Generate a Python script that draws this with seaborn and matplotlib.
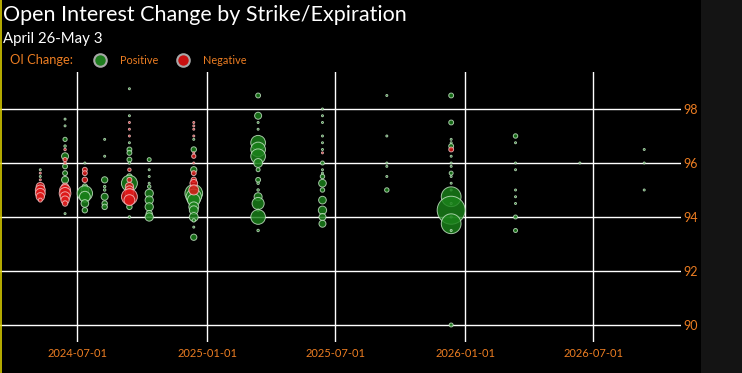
import pandas as pd
import numpy as np
import seaborn as sns
import matplotlib
matplotlib.use('Agg')
import matplotlib.pyplot as plt
import matplotlib.dates as mdates
from matplotlib.patches import Rectangle
from matplotlib.lines import Line2D

# Expiration of each bubble, strike, and OI change (contracts, signed)
expiry = (['2024-05-10'] * 9 + ['2024-06-14'] * 18 + ['2024-07-12'] * 10 + ['2024-08-09'] * 8
          + ['2024-09-13'] * 21 + ['2024-10-11'] * 10 + ['2024-12-13'] * 23 + ['2025-03-14'] * 17
          + ['2025-06-13'] * 17 + ['2025-09-12'] * 6 + ['2025-12-12'] * 20 + ['2026-03-13'] * 9
          + ['2026-06-12'] * 1 + ['2026-09-11'] * 3)

strike = [
    95.75, 95.625, 95.5, 95.375, 95.125, 95.0, 94.875, 94.75, 94.625,
    97.625, 97.375, 96.875, 96.625, 96.5, 96.25, 96.125, 96.0, 95.875, 95.625, 95.375, 95.125, 95.0, 94.875, 94.75, 94.625, 94.5, 94.125,
    96.0, 95.75, 95.625, 95.375, 95.125, 95.0, 94.875, 94.75, 94.5, 94.25,
    96.875, 96.25, 95.375, 95.125, 95.0, 94.75, 94.5, 94.375,
    98.75, 97.75, 97.5, 97.25, 97.0, 96.75, 96.5, 96.375, 96.125, 96.0, 95.75, 95.5, 95.375, 95.25, 95.125, 95.0, 94.875, 94.75, 94.625, 94.375, 94.0,
    96.125, 95.75, 95.5, 95.25, 95.125, 94.875, 94.625, 94.375, 94.125, 94.0,
    97.5, 97.375, 97.25, 97.0, 96.875, 96.5, 96.375, 96.25, 96.0, 95.75, 95.625, 95.375, 95.25, 95.0, 94.875, 94.75, 94.625, 94.375, 94.25, 94.0, 93.875, 93.625, 93.25,
    98.5, 97.75, 97.5, 97.25, 96.75, 96.5, 96.25, 96.0, 95.75, 95.375, 95.25, 95.0, 94.75, 94.5, 94.25, 94.0, 93.5,
    98.0, 97.75, 97.5, 97.0, 96.75, 96.5, 96.375, 96.0, 95.75, 95.625, 95.5, 95.25, 95.0, 94.625, 94.25, 94.0, 93.75,
    98.5, 97.0, 96.0, 95.875, 95.5, 95.0,
    98.5, 97.5, 96.875, 96.75, 96.625, 96.5, 96.25, 96.0, 95.875, 95.625, 95.5, 95.25, 95.0, 94.75, 94.5, 94.25, 94.0, 93.75, 93.5, 90.0,
    97.0, 96.75, 96.0, 95.75, 95.0, 94.75, 94.5, 94.0, 93.5,
    96.0,
    96.5, 96.0, 95.0,
]

oi_change = [
    200, -200, 200, -200, -3500, -5000, -5000, -3500, -800,
    200, 200, 900, 300, -300, 2500, -900, -300, 1200, 1200, 2500, -2500, -6000, -7000, -5000, -3500, -1500, 200,
    200, -1200, -1200, -1500, 1500, 3000, 12000, 6000, 3000, 1500,
    200, 200, 2000, 300, 300, 2500, 1500, 1500,
    200, 200, -200, -200, -200, 200, 1200, 1200, 1200, 300, -600, 1500, -1200, 13000, -3500, -3500, -4000, -13000, -6000, 1500, 300,
    800, 200, 200, 200, 600, 3500, 3500, 3500, 2000, 3500,
    -200, -200, -200, -200, 200, 1500, -200, -900, -200, 2000, -1200, -1500, -3000, -5000, 16000, 12000, 8000, 5000, 4000, 4000, 600, 200, 2000,
    1200, 2500, 200, 200, 11000, 11000, 11000, 4000, 800, 1200, 300, 300, 3300, 7500, 300, 11000, 300,
    200, 200, 200, 200, 200, 200, -200, 800, 200, 200, 1000, 3000, 1000, 3000, 3500, 2500, 2500,
    200, 200, 200, 200, 200, 1000,
    1200, 1200, 200, 200, 1200, -1200, 200, 200, 200, 800, 200, 200, 200, 20000, 200, 40000, 200, 20000, 200, 800,
    1000, 200, 200, 200, 200, 200, 200, 800, 800,
    200,
    200, 200, 200,
]

x_ticks = ['2024-07-01', '2025-01-01', '2025-07-01', '2026-01-01', '2026-07-01']
y_ticks = [90, 92, 94, 96, 98]

df = pd.DataFrame({'expiry': pd.to_datetime(expiry), 'strike': strike, 'oi': oi_change})
df['size'] = df['oi'].abs()
pos = df[df['oi'] > 0]
neg = df[df['oi'] < 0]

orange = '#ec7d22'
W, H = 742, 373

fig = plt.figure(figsize=(W / 100, H / 100), dpi=100, facecolor='#141414')
fig.patches.append(Rectangle((0, 0), 701 / W, 1, transform=fig.transFigure,
                             facecolor='black', edgecolor='none', zorder=-10))
fig.add_artist(Line2D([0.6 / W, 0.6 / W], [0, 1], color='#d8cc00', lw=1.2, transform=fig.transFigure))

ax = fig.add_axes([0, 1 - 342 / H, 681 / W, 270 / H])
ax.set_facecolor('black')

size_kw = dict(size='size', sizes=(0, 406), size_norm=(0, 40000), legend=False, ax=ax)
sns.scatterplot(data=pos, x='expiry', y='strike', color='#1a821a', edgecolor='#c4e4c4',
                linewidth=0.7, alpha=0.82, zorder=3, **size_kw)
sns.scatterplot(data=neg, x='expiry', y='strike', color='#e01818', edgecolor='#f4c0c0',
                linewidth=0.7, alpha=0.82, zorder=4, **size_kw)

ax.set_xlim(pd.Timestamp('2024-03-14'), pd.Timestamp('2026-11-02'))
ax.set_ylim(89.37, 99.37)
ax.set_xticks(pd.to_datetime(x_ticks))
ax.xaxis.set_major_formatter(mdates.DateFormatter('%Y-%m-%d'))
ax.set_yticks(y_ticks)
ax.yaxis.tick_right()
ax.grid(True, color='white', lw=1)
ax.set_axisbelow(True)
for s in ax.spines.values():
    s.set_visible(False)
ax.tick_params(length=0, colors=orange, labelsize=8)
ax.tick_params(axis='x', pad=4)
ax.tick_params(axis='y', pad=2, labelsize=9)
ax.set_xlabel('')
ax.set_ylabel('')

for lab in ax.get_xticklabels() + ax.get_yticklabels():
    lab.set_family('Lato')

fig.text(3 / W, 1 - 15 / H, 'Open Interest Change by Strike/Expiration', color='white',
         fontsize=15.5, family='Lato', va='center', ha='left')
fig.text(3 / W, 1 - 39 / H, 'April 26-May 3', color='white', fontsize=10.8,
         family='Lato', va='center', ha='left')
fig.text(10 / W, 1 - 60 / H, 'OI Change:', color=orange, fontsize=9.3, family='Lato',
         va='center', ha='left')
fig.add_artist(Line2D([100 / W], [1 - 60 / H], marker='o', markersize=9, linestyle='none',
                      markerfacecolor='#1e7d1e', markeredgecolor='#a8a8a8', markeredgewidth=1.5,
                      transform=fig.transFigure))
fig.text(120 / W, 1 - 60 / H, 'Positive', color=orange, fontsize=7.8, family='Lato',
         va='center', ha='left')
fig.add_artist(Line2D([183 / W], [1 - 60 / H], marker='o', markersize=9, linestyle='none',
                      markerfacecolor='#c81010', markeredgecolor='#a8a8a8', markeredgewidth=1.5,
                      transform=fig.transFigure))
fig.text(203 / W, 1 - 60 / H, 'Negative', color=orange, fontsize=7.8, family='Lato',
         va='center', ha='left')

fig.savefig('out.png', dpi=100, facecolor=fig.get_facecolor())
